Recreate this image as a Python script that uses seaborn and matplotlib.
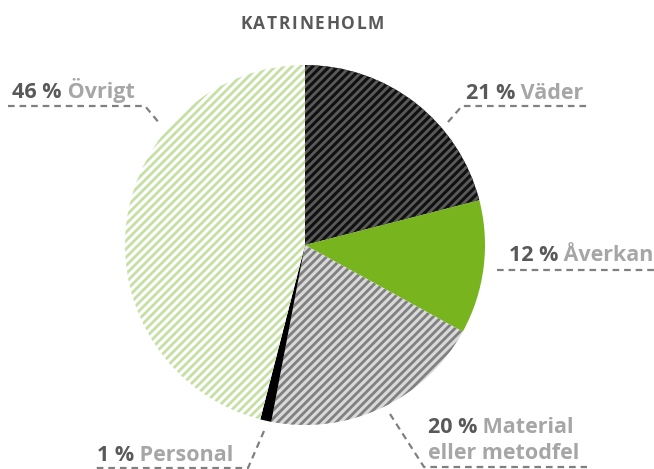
import matplotlib
matplotlib.use("Agg")
import matplotlib.pyplot as plt
import seaborn as sns

# data
categories = ["Väder", "Åverkan", "Material\neller metodfel", "Personal", "Övrigt"]
shares = [21, 12, 20, 1, 46]
face_colors = ["#111111", "#78b41e", "#d9d9d9", "#000000", "#ffffff"]
hatch_colors = ["#5a5a5a", "#78b41e", "#808080", "#000000", "#c5e0a5"]
hatches = ["////", "", "////", "", "////"]
title = "KATRINEHOLM"

sns.set_theme(style="white")
plt.rcParams["font.family"] = ["Open Sans", "DejaVu Sans"]
plt.rcParams["hatch.linewidth"] = 2.0

DARK = "#595959"
LIGHT = "#a6a6a6"
W, H = 654, 469

fig = plt.figure(figsize=(W / 100, H / 100), dpi=100)

# pie axes: centre (305, 245) px, radius 180 px
ax = fig.add_axes([125 / W, 44 / H, 360 / W, 360 / H])
wedges, _ = ax.pie(shares, startangle=90, counterclock=False,
                   colors=face_colors, radius=1.0)
for w, hc, h in zip(wedges, hatch_colors, hatches):
    w.set_edgecolor(hc)
    w.set_linewidth(0)
    w.set_hatch(h)
ax.set_xlim(-1, 1)
ax.set_ylim(-1, 1)

# overlay in pixel coordinates (y down) for labels and leader lines
ov = fig.add_axes([0, 0, 1, 1])
ov.set_xlim(0, W)
ov.set_ylim(H, 0)
ov.axis("off")

line_kw = dict(color="#808080", lw=1.6, dashes=(3, 2.2))
leaders = {
    "Övrigt": ([8, 145, 160], [106, 106, 124]),
    "Väder": ([448, 462, 590], [122, 106, 106]),
    "Åverkan": ([497, 654], [270, 270]),
    "Material\neller metodfel": ([390, 424, 587], [414, 467, 467]),
    "Personal": ([264, 248, 92], [431, 468, 468]),
}
for xs, ys in leaders.values():
    ov.plot(xs, ys, **line_kw)

label_pos = {
    "Övrigt": (12, 98),
    "Väder": (466, 99),
    "Åverkan": (509, 261),
    "Material\neller metodfel": (428, 433),
    "Personal": (97, 461),
}
fs = 15.5
for cat, val in zip(categories, shares):
    x, y = label_pos[cat]
    first, *rest = cat.split("\n")
    t = ov.text(x, y, f"{val} %", color=DARK, fontsize=fs, fontweight="bold",
                ha="left", va="baseline")
    ov.annotate(" " + first, xy=(1, 0), xycoords=t, color=LIGHT, fontsize=fs,
                fontweight="bold", ha="left", va="bottom")
    for i, extra in enumerate(rest):
        ov.text(x, y + 26 * (i + 1), extra, color=LIGHT, fontsize=fs,
                fontweight="bold", ha="left", va="baseline")

# title with letter spacing
prev = ov.text(240, 29, title[0], color=DARK, fontsize=12.5, fontweight="bold",
               ha="left", va="baseline")
for ch in title[1:]:
    prev = ov.annotate(ch, xy=(1, 0), xycoords=prev, xytext=(1.2, 0),
                       textcoords="offset points", color=DARK, fontsize=12.5,
                       fontweight="bold", ha="left", va="bottom")

fig.savefig("out.png", dpi=100)
